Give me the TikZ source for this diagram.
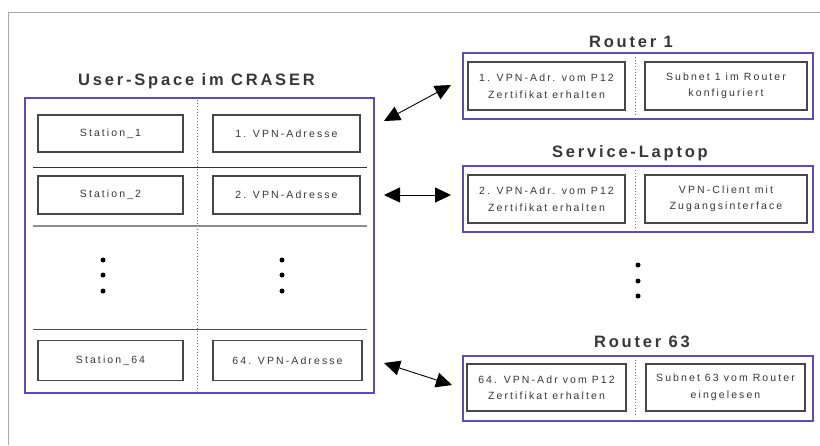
\documentclass[tikz,border=0pt]{standalone}
\usepackage{fontspec}
\setmainfont{Liberation Sans}
\newfontfamily\ttlfont[LetterSpace=17,BoldFont={Liberation Sans Bold}]{Liberation Sans}
\newfontfamily\cellfont[LetterSpace=20]{Liberation Sans}
\usetikzlibrary{arrows.meta}
\definecolor{purp}{RGB}{90,78,182}
\definecolor{txt}{RGB}{55,55,55}
\definecolor{frame}{RGB}{170,170,170}
\tikzset{
  outerbox/.style={draw=purp,line width=2pt,inner sep=0pt},
  cellbox/.style={draw=black!72,line width=1.3pt,fill=white,inner sep=0pt,text=txt,
    font=\cellfont\fontsize{10.5}{16.5}\selectfont,align=center},
  ttl/.style={text=txt,font=\ttlfont\bfseries\fontsize{16.5}{19}\selectfont,inner sep=0pt},
  divider/.style={draw=black!55,line width=1pt,dotted},
  bigdot/.style={circle,fill=black,inner sep=0pt,minimum size=5pt},
  dbl/.style={{Triangle[length=16pt,width=15pt]}-{Triangle[length=16pt,width=15pt]},line width=0.9pt,black}
}
\begin{document}
\begin{tikzpicture}[x=1pt,y=-1pt]
\useasboundingbox (0,0) rectangle (820,445);
\draw[frame,line width=1pt] (8,445) -- (8,12) -- (820,12);
% left big box
\node[outerbox,minimum width=349pt,minimum height=295pt] (big) at (199.5,245.5) {};
\node[ttl] (tbig) at (196.5,81.5) {User-Space im CRASER};
\draw[divider] (197,100) -- (197,391);
\draw[black!80,line width=0.9pt] (33,167) -- (367,167);
\draw[black!45,line width=2.4pt] (33,226) -- (367,226);
\draw[black!70,line width=1pt] (33,329) -- (367,329);
\node[cellbox,minimum width=145pt,minimum height=37pt] (s1) at (110.5,133.5) {Station\_1};
\node[cellbox,minimum width=147pt,minimum height=37pt] (v1) at (286.5,133.5) {1. VPN-Adresse};
\node[cellbox,minimum width=145pt,minimum height=38pt] (s2) at (110.5,195) {Station\_2};
\node[cellbox,minimum width=147pt,minimum height=38pt] (v2) at (286.5,195) {2. VPN-Adresse};
\node[cellbox,minimum width=145pt,minimum height=40pt] (s64) at (110.5,360.5) {Station\_64};
\node[cellbox,minimum width=149pt,minimum height=40pt] (v64) at (287.5,360.5) {64. VPN-Adresse};
\foreach \yy [count=\i] in {260,275,291}{
  \node[bigdot] (dl\i) at (103,\yy) {};
  \node[bigdot] (dr\i) at (282,\yy) {};
}
% Router 1
\node[ttl] (tr1) at (631,42) {Router 1};
\node[outerbox,minimum width=350pt,minimum height=66pt] (r1) at (638,86) {};
\draw[divider] (635,57) -- (635,115);
\node[cellbox,minimum width=157pt,minimum height=48pt] (r1a) at (546.5,86) {1. VPN-Adr. vom P12\\Zertifikat erhalten};
\node[cellbox,minimum width=162pt,minimum height=48pt] (r1b) at (726,86) {Subnet 1 im Router\\konfiguriert};
% Service-Laptop
\node[ttl] (tsl) at (630,153) {Service-Laptop};
\node[outerbox,minimum width=350pt,minimum height=66pt] (sl) at (638,199) {};
\draw[divider] (635,170) -- (635,228);
\node[cellbox,minimum width=157pt,minimum height=48pt] (sla) at (546.5,199) {2. VPN-Adr. vom P12\\Zertifikat erhalten};
\node[cellbox,minimum width=162pt,minimum height=48pt] (slb) at (726,199) {VPN-Client mit\\Zugangsinterface};
% dots right
\foreach \yy [count=\i] in {265,281,296}{
  \node[bigdot] (dm\i) at (638,\yy) {};
}
% Router 63
\node[ttl] (tr63) at (642,342) {Router 63};
\node[outerbox,minimum width=350pt,minimum height=65pt] (r63) at (638,388.5) {};
\draw[divider] (635,360) -- (635,417);
\node[cellbox,minimum width=159pt,minimum height=47pt] (r63a) at (546.5,387.5) {64. VPN-Adr vom P12\\Zertifikat erhalten};
\node[cellbox,minimum width=159pt,minimum height=47pt] (r63b) at (725.5,387.5) {Subnet 63 vom Router\\eingelesen};
% arrows
\coordinate (a1s) at ([shift={(9,24)}]big.north east);
\coordinate (a1e) at ([shift={(-11,-1)}]r1.west);
\coordinate (a2s) at ([shift={(9,-50.5)}]big.east);
\coordinate (a2e) at ([shift={(-11,-4)}]sl.west);
\coordinate (a3s) at ([shift={(9,-31)}]big.south east);
\coordinate (a3e) at ([shift={(-10,-3.5)}]r63.west);
\draw[dbl] (a1s) -- (a1e);
\draw[dbl] (a2s) -- (a2e);
\draw[dbl] (a3s) -- (a3e);
\end{tikzpicture}
\end{document}
